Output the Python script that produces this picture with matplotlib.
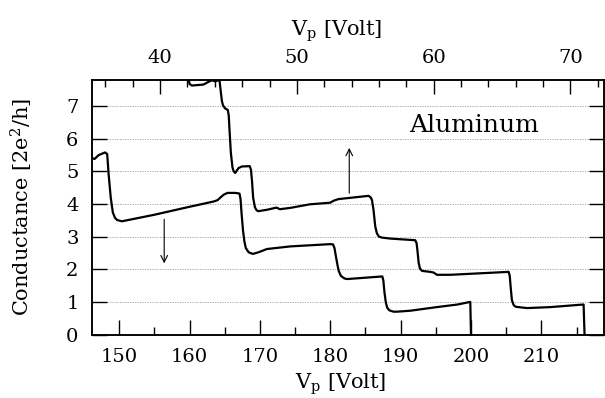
import matplotlib
matplotlib.use("Agg")
import matplotlib.pyplot as plt
from matplotlib.ticker import MultipleLocator

plt.rcParams['font.family'] = ['DejaVu Serif']
plt.rcParams['mathtext.fontset'] = 'dejavuserif'

# lower trace, read against the bottom axis (V_p, conductance in 2e^2/h)
lower_v = [146.0, 146.5, 147.1, 148.0, 148.3, 148.5, 148.8, 149.1, 149.4, 149.7,
           150.4, 155.0, 159.7, 163.5, 164.0, 164.5, 164.9, 165.4, 166.5, 167.1,
           167.25, 167.4, 167.6, 167.8, 168.0, 168.4, 169.0, 169.8, 171.0, 174.3,
           180.0, 180.4, 180.6, 180.8, 181.0, 181.2, 181.5, 182.0, 182.4, 184.3,
           187.4, 187.55, 187.7, 187.9, 188.1, 188.4, 189.0, 189.5, 191.4, 194.8,
           198.1, 199.9, 200.0]
lower_g = [5.42, 5.38, 5.50, 5.58, 5.53, 4.92, 4.20, 3.74, 3.58, 3.51,
           3.47, 3.67, 3.90, 4.08, 4.12, 4.22, 4.29, 4.34, 4.34, 4.32,
           4.15, 3.70, 3.19, 2.85, 2.65, 2.52, 2.47, 2.52, 2.62, 2.70,
           2.77, 2.76, 2.65, 2.40, 2.16, 1.95, 1.80, 1.72, 1.70, 1.73,
           1.78, 1.65, 1.30, 0.98, 0.82, 0.74, 0.70, 0.70, 0.73, 0.83,
           0.92, 1.00, 0.0]

# upper trace, read against the top axis
upper_v = [41.9, 42.15, 42.32, 43.17, 43.61, 43.8, 44.02, 44.34, 44.44, 44.52,
           44.60, 44.75, 44.95, 45.02, 45.07, 45.17, 45.29, 45.38, 45.49, 45.6,
           45.73, 45.98, 46.55, 46.64, 46.72, 46.80, 46.93, 47.05, 47.17, 47.78,
           48.51, 48.75, 49.51, 50.94, 52.44, 52.68, 53.04, 55.24, 55.40, 55.49,
           55.60, 55.73, 55.85, 56.0, 56.22, 56.83, 58.65, 58.75, 58.82, 58.90,
           59.0, 59.15, 59.75, 59.99, 60.24, 61.21, 65.48, 65.56, 65.64, 65.72,
           65.85, 66.0, 66.82, 68.52, 70.96, 71.03]
upper_g = [8.3, 7.68, 7.63, 7.66, 7.76, 7.79, 7.76, 7.80, 7.43, 7.15,
           7.02, 6.93, 6.88, 6.70, 6.30, 5.58, 5.12, 5.00, 4.95, 5.02,
           5.10, 5.15, 5.16, 5.05, 4.70, 4.20, 3.90, 3.81, 3.78, 3.82,
           3.89, 3.84, 3.88, 3.99, 4.04, 4.10, 4.15, 4.25, 4.20, 4.12,
           3.82, 3.31, 3.10, 3.00, 2.97, 2.94, 2.89, 2.80, 2.55, 2.20,
           2.02, 1.95, 1.92, 1.90, 1.83, 1.83, 1.92, 1.80, 1.40, 1.05,
           0.90, 0.85, 0.81, 0.84, 0.92, 0.0]

y_ticks = [0, 1, 2, 3, 4, 5, 6, 7]
bottom_ticks = [150, 160, 170, 180, 190, 200, 210]
top_ticks = [40, 50, 60, 70]

fig = plt.figure(figsize=(6.05, 3.98), dpi=100)
ax = fig.add_axes([0.1516, 0.1595, 0.8467, 0.6395])
ax.set_xlim(146.1, 218.9)
ax.set_ylim(0, 7.8)

ax2 = ax.twiny()
ax2.set_xlim(35.0, 72.45)

for g in y_ticks[1:]:
    ax.axhline(g, color='0.6', lw=0.6, ls=(0, (1.5, 1.5)), zorder=0)

ax.plot(lower_v, lower_g, color='black', lw=1.6, solid_joinstyle='round')
ax2.plot(upper_v, upper_g, color='black', lw=1.6, solid_joinstyle='round')

arrow = dict(arrowstyle='->', lw=0.8, color='black', shrinkA=0, shrinkB=0,
             mutation_scale=12)
ax.annotate('', xy=(182.7, 5.72), xytext=(182.7, 4.33), arrowprops=arrow)
ax.annotate('', xy=(156.4, 2.18), xytext=(156.4, 3.53), arrowprops=arrow)

ax.text(191.2, 6.21, 'Aluminum', fontsize=18, ha='left', va='baseline')

ax.set_yticks(y_ticks)
ax.set_xticks(bottom_ticks)
ax.xaxis.set_minor_locator(MultipleLocator(5))
ax.tick_params(axis='x', which='both', direction='in', top=False, pad=9.5,
               labelsize=14)
ax.tick_params(axis='x', which='major', length=10.5, width=1)
ax.tick_params(axis='x', which='minor', length=5.5, width=1)
ax.tick_params(axis='y', direction='in', left=True, right=True, length=10.5,
               width=1, pad=9.5, labelsize=14)

ax2.set_xticks(top_ticks)
ax2.xaxis.set_minor_locator(MultipleLocator(2))
ax2.tick_params(axis='x', which='both', direction='in', pad=9.5, labelsize=14)
ax2.tick_params(axis='x', which='major', length=10, width=1)
ax2.tick_params(axis='x', which='minor', length=5, width=1)

for a in (ax, ax2):
    for s in a.spines.values():
        s.set_linewidth(1.1)

ax.set_xlabel(r'V$_{\rm p}$ [Volt]', fontsize=15)
ax.xaxis.set_label_coords(0.486, -0.145)
ax2.set_xlabel(r'V$_{\rm p}$ [Volt]', fontsize=15)
ax2.xaxis.set_label_coords(0.478, 1.175)
ax.set_ylabel(r'Conductance [2e$^2$/h]', fontsize=15)
ax.yaxis.set_label_coords(-0.111, 0.5)

fig.savefig('out.png', dpi=100)
